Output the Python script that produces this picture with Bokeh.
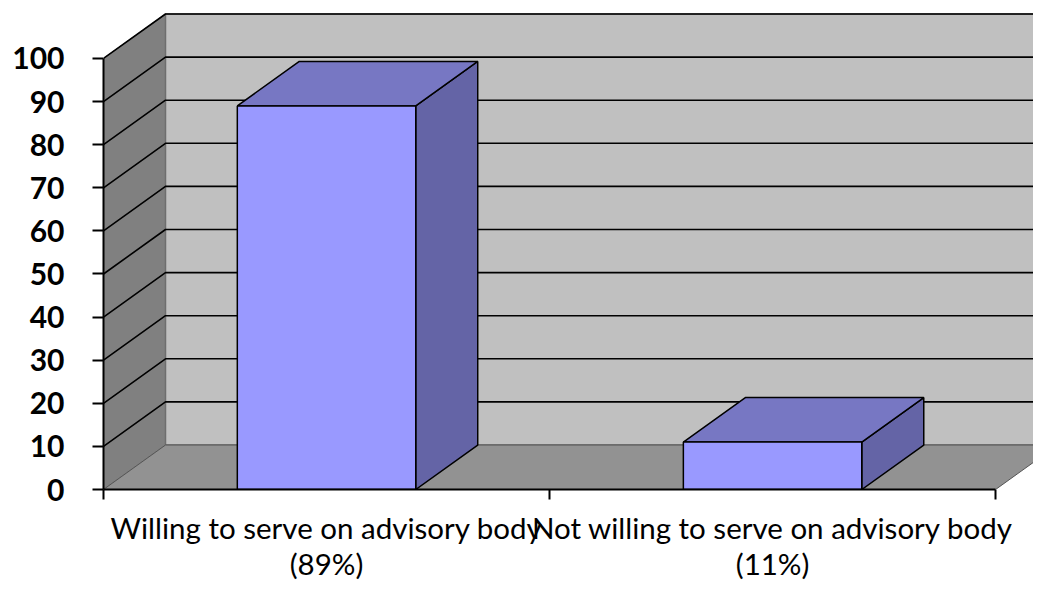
from bokeh.plotting import figure
from bokeh.models import FixedTicker, Range1d, LinearAxis
from bokeh.embed import file_html
from bokeh.resources import INLINE

# ---- data ----
categories = ["Willing to serve on advisory body", "Not willing to serve on advisory body"]
values = [89, 11]
pct_labels = ["(89%)", "(11%)"]
y_ticks = [0, 10, 20, 30, 40, 50, 60, 70, 80, 90, 100]

# ---- style / geometry ----
DX = 0.139      # depth offset in x (category units)
DY = 10.32      # depth offset in y (value units)
BAR_W = 0.40
N = len(categories)
YMAX = 100

p = figure(width=1033, height=584, x_range=Range1d(0, 2.085), y_range=Range1d(0, 113.45),
           output_backend="svg", toolbar_location=None,
           min_border_left=103, min_border_right=0, min_border_top=0, min_border_bottom=95,
           x_axis_location=None, y_axis_location=None)
p.xgrid.visible = False
p.ygrid.visible = False
p.outline_line_color = None
p.background_fill_color = "white"
p.border_fill_color = "white"

# walls and floor
p.patch([0, DX, DX, 0], [0, DY, YMAX + DY, YMAX], fill_color="#808080",
        line_color="#6e6e6e", line_width=1)
p.patch([DX, N + DX, N + DX, DX], [DY, DY, YMAX + DY, YMAX + DY], fill_color="#C0C0C0",
        line_color="#6e6e6e", line_width=1.5)
p.patch([0, N, N + DX, DX], [0, 0, DY, DY], fill_color="#929292",
        line_color="#555555", line_width=1)

# gridlines
gx, gy = [], []
for v in y_ticks[1:]:
    gx.append([0, DX, N + DX])
    gy.append([v, v + DY, v + DY])
p.multi_line(gx, gy, line_color="black", line_width=1.6)

# bars
for i, v in enumerate(values):
    x0 = i + 0.5 - BAR_W / 2
    x1 = i + 0.5 + BAR_W / 2
    p.patch([x1, x1 + DX, x1 + DX, x1], [0, DY, v + DY, v], fill_color="#6464A6",
            line_color="black", line_width=1.5)
    p.patch([x0, x1, x1 + DX, x0 + DX], [v, v, v + DY, v + DY], fill_color="#7777C3",
            line_color="black", line_width=1.5)
    p.patch([x0, x1, x1, x0], [0, 0, v, v], fill_color="#9999FF",
            line_color="black", line_width=1.5)

# y axis
ya = LinearAxis(ticker=FixedTicker(ticks=y_ticks, minor_ticks=[]), bounds=(0, YMAX))
ya.axis_line_color = "black"
ya.axis_line_width = 2
ya.major_tick_out = 11
ya.major_tick_in = 0
ya.minor_tick_out = 0
ya.major_tick_line_color = "black"
ya.major_tick_line_width = 2
ya.major_label_text_font = "Lato"
ya.major_label_text_font_style = "bold"
ya.major_label_text_font_size = "30px"
ya.major_label_text_color = "black"
ya.major_label_standoff = 28
p.add_layout(ya, "left")

# x axis (category names, two lines)
centers = [i + 0.5 for i in range(N)]
xa = LinearAxis(ticker=FixedTicker(ticks=centers, minor_ticks=list(range(N + 1))), bounds=(0, N))
xa.axis_line_color = "black"
xa.axis_line_width = 2
xa.major_tick_out = 0
xa.major_tick_in = 0
xa.minor_tick_out = 10
xa.minor_tick_in = 0
xa.minor_tick_line_color = "black"
xa.minor_tick_line_width = 2
xa.major_label_overrides = {c: f"{lab}\n{pct}" for c, lab, pct in zip(centers, categories, pct_labels)}
xa.major_label_text_font = "Lato"
xa.major_label_text_font_size = "29.5px"
xa.major_label_text_line_height = 1.05
xa.major_label_text_color = "black"
xa.major_label_standoff = 10
p.add_layout(xa, "below")

open("out.html", "w").write(file_html(p, INLINE))
